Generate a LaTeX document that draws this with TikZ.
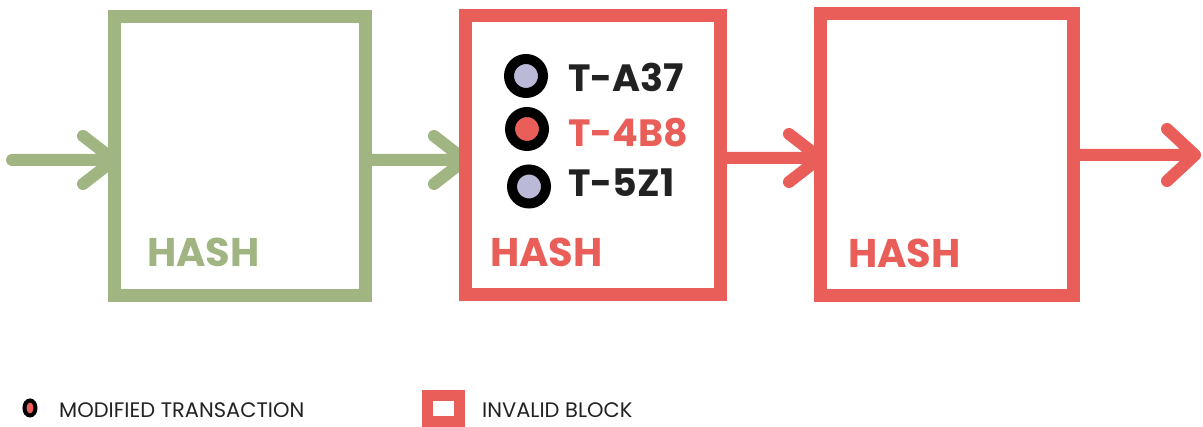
\documentclass[tikz,border=0pt]{standalone}
\usepackage{fontspec}
\setmainfont{Poppins}
\usetikzlibrary{calc,shapes.geometric}
\definecolor{hgreen}{RGB}{161,181,131}
\definecolor{hred}{RGB}{233,94,88}
\definecolor{hlav}{RGB}{186,186,216}
\definecolor{hdark}{RGB}{34,34,34}
\tikzset{
  x=1pt, y=1pt,
  block/.style={draw=#1, line width=13pt, rectangle, inner sep=0pt, outer sep=0pt, miter limit=10},
  link/.style={draw=#1, line width=12pt, line cap=round, line join=round},
  hashtxt/.style={font=\fontsize{40}{40}\selectfont\bfseries, text=#1, anchor=base west, inner sep=0pt},
  txtxt/.style={font=\fontsize{38}{38}\selectfont\bfseries, text=#1, anchor=base west, inner sep=0pt},
  txdot/.style={circle, draw=black, line width=10pt, fill=#1, minimum size=34pt, inner sep=0pt},
  legtxt/.style={font=\fontsize{21}{21}\selectfont, text=hdark, anchor=west, inner sep=0pt}
}
\begin{document}
\begin{tikzpicture}
\useasboundingbox (0,0) rectangle (1203,427);
% blocks
\node[block=hgreen, minimum width=251pt, minimum height=279pt] (g) at (239.5,270.5) {};
\node[block=hred, minimum width=255pt, minimum height=279pt] (r1) at (592.5,271.5) {};
\node[block=hred, minimum width=253pt, minimum height=282pt] (r2) at (946.5,272) {};
% HASH labels
\node[hashtxt=hgreen] (hg) at ($(g.south west)+(33,29)$) {HASH};
\node[hashtxt=hred] (hr1) at ($(r1.south west)+(25,28)$) {HASH};
\node[hashtxt=hred] (hr2) at ($(r2.south west)+(28,28)$) {HASH};
% transactions
\node[txdot=hlav] (d1) at (526,351) {};
\node[txdot=hred] (d2) at (527,298) {};
\node[txdot=hlav] (d3) at (529,240.5) {};
\node[txtxt=hdark] (t1) at (568,335) {T-A37};
\node[txtxt=hred] (t2) at (568,280) {T-4B8};
\node[txtxt=hdark] (t3) at (568,230) {T-5Z1};
% connectors
\coordinate (in) at (12,267);
\coordinate (out) at (1195,272);
\coordinate (e1) at (g.west |- 0,267);
\coordinate (s2) at (g.east |- 0,267);
\coordinate (e2) at (r1.west |- 0,267);
\coordinate (s3) at (r1.east |- 0,269);
\coordinate (e3) at (r2.west |- 0,269);
\coordinate (s4) at (r2.east |- 0,272);
\draw[link=hgreen] (in) -- (e1) (e1) ++(-31,24) -- (e1) -- ++(-31,-24);
\draw[link=hgreen] (s2) -- (e2) (e2) ++(-31,24) -- (e2) -- ++(-31,-24);
\draw[link=hred] (s3) -- (e3) (e3) ++(-31,24) -- (e3) -- ++(-31,-24);
\draw[link=hred] (s4) -- (out) (out) ++(-28,26) -- (out) -- ++(-28,-26);
% redraw blocks' left edges over arrow heads
\draw[hgreen, line width=13pt] (g.north west) -- (g.south west);
\draw[hred, line width=13pt] (r1.north west) -- (r1.south west);
\draw[hred, line width=13pt] (r2.north west) -- (r2.south west);
% legend
\node[ellipse, draw=black, line width=4pt, fill=hred, minimum width=11pt, minimum height=15pt, inner sep=0pt] (ld) at (30,19) {};
\node[legtxt] (lt1) at (59,17) {MODIFIED TRANSACTION};
\node[draw=hred, line width=11pt, rectangle, minimum width=32pt, minimum height=26pt, inner sep=0pt, outer sep=0pt] (lb) at (443.5,18.5) {};
\node[legtxt] (lt2) at (482,17) {INVALID BLOCK};
\end{tikzpicture}
\end{document}
